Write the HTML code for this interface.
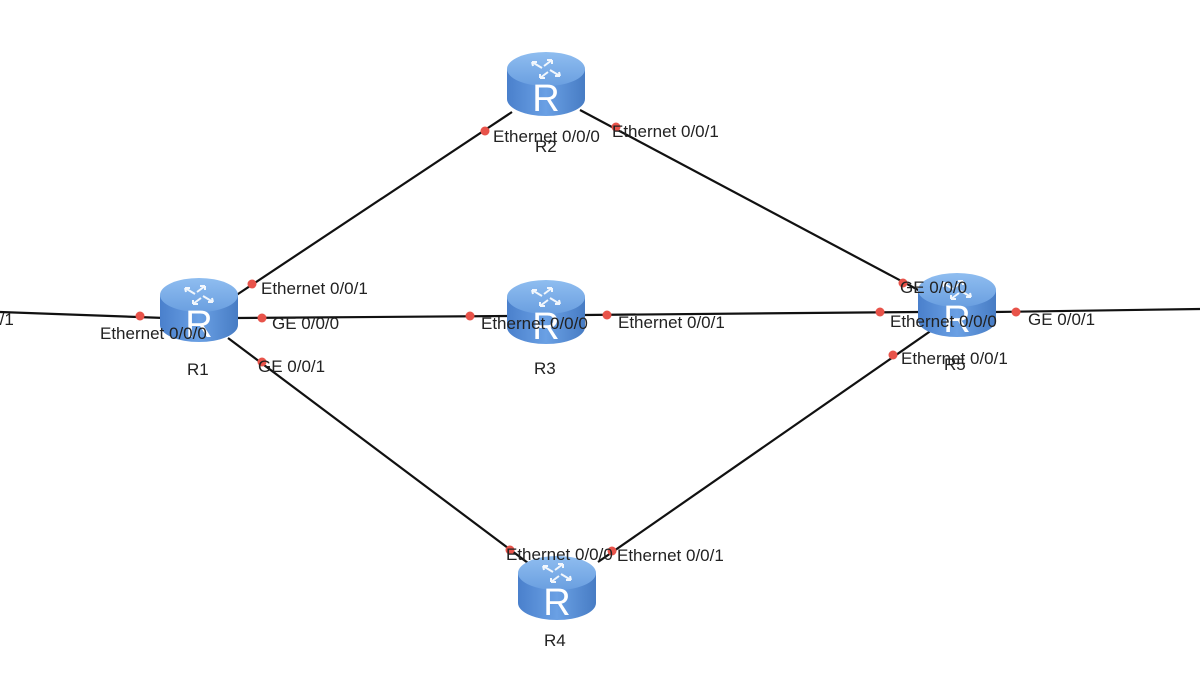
<!DOCTYPE html>
<html><head><meta charset="utf-8"><style>
html,body{margin:0;padding:0;background:#fff;}
svg{display:block}
text{font-family:"Liberation Sans",Arial,sans-serif;font-size:17px;fill:#222;}
</style></head><body>
<svg width="1200" height="675" viewBox="0 0 1200 675" xmlns="http://www.w3.org/2000/svg">
<defs>
<linearGradient id="body" x1="0" x2="1" y1="0" y2="0">
<stop offset="0" stop-color="#4a80cc"/><stop offset="0.5" stop-color="#6aa0e4"/><stop offset="1" stop-color="#477cc4"/>
</linearGradient>
<linearGradient id="top" x1="0" x2="0" y1="0" y2="1">
<stop offset="0" stop-color="#8fbdf0"/><stop offset="1" stop-color="#6a9fe0"/>
</linearGradient>
<g id="rt">
<path d="M-39,-15 L-39,15 A39,17 0 0 0 39,15 L39,-15 Z" fill="url(#body)"/>
<ellipse cx="0" cy="-15" rx="39" ry="17" fill="url(#top)"/>
<g stroke="#fff" stroke-width="2" fill="none" opacity="0.9">
<path d="M-14,-22 L-4,-16 M-14,-22 l5,0 M-14,-22 l1,4"/>
<path d="M14,-8 L4,-14 M14,-8 l-5,0 M14,-8 l-1,-4"/>
<path d="M6,-24 L-2,-18 M6,-24 l-5,0 M6,-24 l0,4"/>
<path d="M-6,-6 L2,-12 M-6,-6 l5,0 M-6,-6 l0,-4"/>
</g>
<text x="0" y="27" text-anchor="middle" style="font-size:38px;fill:#fff;">R</text>
</g>
</defs>
<g stroke="#111" stroke-width="2.2" fill="none">
<line x1="0" y1="312" x2="165" y2="318"/>
<line x1="232" y1="298" x2="512" y2="112"/>
<line x1="580" y1="110" x2="922" y2="292"/>
<line x1="236" y1="318" x2="510" y2="316"/>
<line x1="584" y1="315" x2="920" y2="312"/>
<line x1="228" y1="338" x2="532" y2="566"/>
<line x1="598" y1="562" x2="932" y2="330"/>
<line x1="994" y1="312" x2="1200" y2="309"/>
</g>
<use href="#rt" x="199" y="310"/>
<use href="#rt" x="546" y="84"/>
<use href="#rt" x="546" y="312"/>
<use href="#rt" x="557" y="588"/>
<use href="#rt" x="957" y="305"/>
<g fill="#e8534a">
<circle cx="140" cy="316" r="4.5"/>
<circle cx="252" cy="284" r="4.5"/>
<circle cx="262" cy="318" r="4.5"/>
<circle cx="262" cy="362" r="4.5"/>
<circle cx="485" cy="131" r="4.5"/>
<circle cx="616" cy="127" r="4.5"/>
<circle cx="470" cy="316" r="4.5"/>
<circle cx="607" cy="315" r="4.5"/>
<circle cx="880" cy="312" r="4.5"/>
<circle cx="1016" cy="312" r="4.5"/>
<circle cx="903" cy="283" r="4.5"/>
<circle cx="893" cy="355" r="4.5"/>
<circle cx="510" cy="550" r="4.5"/>
<circle cx="612" cy="551" r="4.5"/>
</g>
<text x="-93" y="325">Ethernet 0/0/1</text>
<text x="100" y="339">Ethernet 0/0/0</text>
<text x="187" y="375">R1</text>
<text x="261" y="294">Ethernet 0/0/1</text>
<text x="272" y="329">GE 0/0/0</text>
<text x="258" y="372">GE 0/0/1</text>
<text x="493" y="142">Ethernet 0/0/0</text>
<text x="535" y="152">R2</text>
<text x="612" y="137">Ethernet 0/0/1</text>
<text x="481" y="329">Ethernet 0/0/0</text>
<text x="618" y="328">Ethernet 0/0/1</text>
<text x="534" y="374">R3</text>
<text x="900" y="293">GE 0/0/0</text>
<text x="890" y="327">Ethernet 0/0/0</text>
<text x="1028" y="325">GE 0/0/1</text>
<text x="944" y="370">R5</text>
<text x="901" y="364">Ethernet 0/0/1</text>
<text x="506" y="560">Ethernet 0/0/0</text>
<text x="617" y="561">Ethernet 0/0/1</text>
<text x="544" y="646">R4</text>
</svg>
</body></html>
